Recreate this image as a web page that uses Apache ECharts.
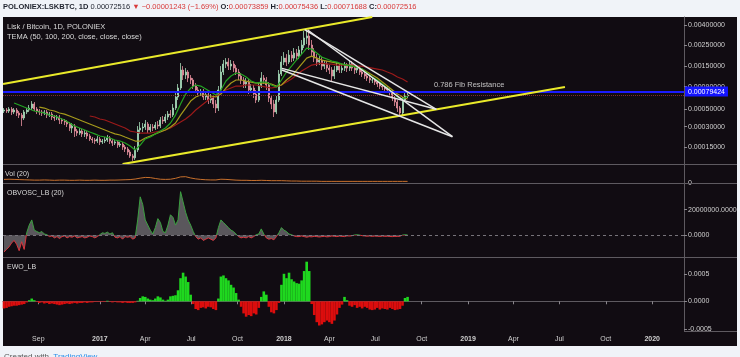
<!DOCTYPE html>
<html><head><meta charset="utf-8">
<script src="https://cdn.jsdelivr.net/npm/echarts@6/dist/echarts.min.js"></script>
<style>html,body{margin:0;padding:0;background:#f0f3f8;}#c{width:740px;height:357px;}</style>
</head><body><div id="c"></div>
<script>
// ================= DATA =================
// Price candles (5-day candles), values in satoshi (1e-8 BTC)
const candleStart = '2016-06-25';
const candleStepDays = 5;
const firstOpenSat = 47300;
const closeSat = [48600,47300,49900,46000,48600,44700,42200,38800,46000,48600,
51300,57200,49900,47300,46000,44700,46000,42200,43400,39900,
38800,39900,36600,35500,34500,32500,28800,30600,26200,24600,
26200,23900,24600,22300,20200,19500,18800,20200,18200,18800,
19500,20900,18800,17500,18200,16300,16900,15100,14000,12400,
10500,9600,13500,27100,28800,29700,32500,27100,29700,28800,
31500,30600,36600,35500,39900,43400,42200,51300,68900,86900,
136300,120500,129700,111800,106400,91400,82600,76400,78400,68900,
72600,63600,67100,57200,51300,82600,129700,157700,165500,150100,
157700,143000,129700,117500,106400,96200,101100,82600,86900,74500,
63600,91400,111800,106400,93800,67100,57200,46000,63600,123500,
165500,182200,165500,196000,182200,205600,191300,221300,249100,294300,
308700,249100,210600,182200,165500,174100,150100,157700,143000,136300,
117500,136300,150100,136300,143000,150100,143000,157700,143000,136300,
143000,129700,123500,117500,111800,106400,106400,101100,96200,91400,
89100,84700,82600,78400,67100,60300,51300,44700,63600,70700,
72516];
const highSat = [51300,51300,52700,52700,51300,51300,47300,44700,48600,51300,
55700,61900,60300,52700,49900,48600,48600,48600,46000,46000,
42200,42200,42200,38800,37700,36600,34500,33500,32500,27900,
28800,27900,27100,26200,23900,21600,20900,22300,21600,20200,
21600,23100,22300,20200,19500,19500,18200,18200,16300,15100,
13500,11400,15700,30600,34500,33500,36600,34500,32500,32500,
34500,35500,39900,41100,43400,47300,48600,57200,76400,96200,
161600,150100,143000,136300,120500,111800,98600,89100,84700,84700,
78400,78400,74500,72600,63600,91400,150100,174100,182200,182200,
174100,169700,153900,139600,126600,114600,111800,109100,96200,93800,
82600,101100,129700,120500,114600,101100,72600,63600,70700,136300,
191300,210600,200700,221300,215900,231800,226500,243200,280900,347500,
355800,339400,280900,231800,200700,191300,186700,174100,169700,153900,
146500,150100,165500,161600,157700,165500,161600,174100,169700,153900,
153900,150100,139600,133000,126600,117500,114600,111800,106400,101100,
96200,93800,91400,86900,82600,70700,63600,54200,68900,78400,
78400];
const lowSat = [44700,44700,44700,42200,43400,41100,38800,30600,36600,43400,
46000,48600,47300,43400,42200,41100,42200,38800,39900,36600,
35500,36600,32500,32500,31500,29700,26200,24600,21600,22300,
23100,21600,21600,20200,18800,17500,16900,17500,16300,16900,
17500,18200,16900,15700,16300,14600,15100,13500,12400,10900,
9600,8300,8700,12400,23900,25400,27100,24600,25400,26200,
27100,27900,28800,32500,33500,36600,38800,39900,48600,63600,
82600,106400,109100,101100,96200,84700,76400,68900,70700,63600,
63600,57200,58700,51300,44700,47300,78400,120500,143000,136300,
136300,129700,120500,106400,96200,86900,86900,74500,76400,67100,
58700,60300,86900,96200,82600,60300,49900,39900,43400,60300,
117500,153900,150100,157700,165500,169700,174100,178100,200700,231800,
255100,221300,186700,165500,150100,153900,136300,139600,129700,123500,
103700,109100,129700,126600,126600,133000,129700,133000,133000,123500,
126600,120500,114600,109100,103700,98600,98600,93800,89100,84700,
82600,78400,76400,72600,61900,54200,46000,41100,42200,60300,
67100];

// TEMA lines (10-day samples), satoshi; each starts at a sample index
const temaStart = '2016-06-25';
const temaStepDays = 10;
const tema50StartIdx = 2;
const tema50Sat = [58700,55700,52700,49900,47300,46000,44700,42200,41100,38800,36600,33500,30600,28800,27100,25400,23900,22300,21600,20900,19500,18800,17500,15700,13500,16300,20200,21600,23900,26200,28800,33500,42200,57200,74500,86900,93800,91400,84700,78400,72600,82600,103700,117500,126600,123500,114600,103700,98600,101100,101100,93800,89100,106400,129700,150100,174100,200700,231800,226500,205600,186700,178100,169700,165500,157700,153900,150100,146500,139600,126600,114600,106400,96200,86900,78400,68900,65300,70700];
const tema100StartIdx = 7;
const tema100Sat = [52700,51300,48600,47300,44700,43400,41100,38800,36600,34500,32500,30600,28800,27100,25400,23900,23100,21600,20200,18800,18800,20900,22300,23900,25400,27100,29700,33500,42200,51300,61900,68900,72600,72600,70700,68900,74500,86900,98600,106400,106400,103700,101100,98600,98600,98600,96200,91400,93800,106400,117500,136300,157700,182200,191300,182200,174100,169700,165500,161600,157700,153900,150100,146500,139600,129700,120500,111800,101100,91400,82600,74500,68900,65300];
const tema200StartIdx = 17;
const tema200Sat = [41100,39900,37700,36600,34500,32500,30600,28800,26200,25400,24600,24600,24600,25400,26200,27100,28800,31500,34500,37700,42200,48600,54200,60300,67100,70700,76400,82600,86900,91400,91400,93800,93800,93800,91400,89100,86900,89100,93800,101100,109100,120500,133000,143000,153900,157700,161600,157700,157700,153900,153900,153900,153900,150100,150100,146500,143000,139600,136300,129700,123500,114600,109100,101100];

// Volume MA (10-day samples, relative units)
const volMA = [20,21,20,19,18,17,16,16,17,16,15,16,16,15,15,16,15,15,16,15,15,16,16,17,18,19,
22,27,31,30,25,21,20,21,26,34,35,28,23,20,18,17,17,21,20,18,16,15,15,14,14,15,14,13,13,13,12,11,11,10,
10,10,10,9,9,9,9,9,9,9,9,9,9,9,9,9,9,9,9,9,9];

// OBV oscillator (5-day samples), millions
const obvOscM = [-13,-11,-9,-6,-4,-7,-12,-5,-11,2,
8,12,4,3,2,3,1,0.5,-1,-0.5,
-2,-1,-2.5,-1,-0.5,-2,-1,-1.5,-0.5,-2,
-1.5,-1,-2,-1.5,-0.5,-1,-2,-1,0.5,2,
1.5,2.5,1,2,-1.5,-2,-1,-3,-1,-1.5,
-1,-3,-2,12,30,24,12,8,4,1,
6,13,10,3,2,8,16,14,8,12,
34,26,18,12,8,3,-1,-3,-2,-4,
-3,-2,-3,-4,-2,6,12,10,8,6,
4,3,1,-1,-2,-1.5,-2,-1,-2,-1,
0.5,1,5,1,-2,-3,-2.5,-3.5,-1,2,
6,4,3,1,0.5,-0.5,-1,-1,-0.5,-1,
-1.5,-1,-1.2,-0.8,-1,-1.3,-1,-0.8,-1.2,-1,
-0.5,-0.8,-1,-0.6,-0.8,-1,-0.4,-0.6,-0.3,0.3,
0.4,0.2,-0.3,-0.5,-0.7,-0.5,-0.8,-0.6,-0.7,-0.9,
-0.6,-0.8,-0.7,-0.9,-1,-0.8,-0.9,-0.7,0.2,0.4,
0.3];

// EWO (5-day samples), units of 1e-4
const ewoE4 = [-1.3,-1.2,-1.0,-0.9,-0.8,-0.8,-0.7,-0.6,-0.5,-0.2,
0.2,0.5,0.2,-0.1,-0.3,-0.2,-0.4,-0.3,-0.5,-0.4,
-0.5,-0.6,-0.7,-0.6,-0.5,-0.4,-0.5,-0.4,-0.3,-0.4,
-0.3,-0.3,-0.2,-0.3,-0.2,-0.2,-0.1,-0.1,-0.1,-0.1,
-0.1,0.1,-0.1,-0.2,-0.1,-0.2,-0.2,-0.3,-0.2,-0.3,
-0.3,-0.3,-0.2,0.1,0.6,0.9,0.8,0.5,0.3,0.2,
0.5,0.9,0.7,0.3,0.1,0.3,0.9,1.0,1.1,2.0,
4.2,5.2,4.5,3.5,1.2,-0.5,-1.4,-1.6,-1.2,-1.1,
-1.3,-1.0,-1.1,-1.4,-1.6,0.5,4.5,4.7,4.2,3.8,
3.0,2.5,1.5,0.3,-1.0,-2.2,-2.8,-2.5,-2.7,-2.2,
-2.4,-1.2,0.8,1.8,1.2,-1.0,-2.0,-2.2,-1.6,-0.3,
3.0,5.0,4.2,5.2,4.0,3.6,3.3,3.2,3.8,5.5,
7.2,5.5,-0.5,-2.5,-3.8,-4.4,-4.2,-3.8,-3.5,-3.8,
-4.1,-3.5,-2.4,-1.2,-0.6,0.8,0.2,-0.8,-1.0,-0.7,
-1.2,-1.0,-1.3,-1.0,-1.2,-1.5,-1.6,-1.5,-1.2,-1.5,
-1.3,-1.4,-1.5,-1.2,-1.4,-1.6,-1.5,-1.4,-0.8,0.6,
0.8];

// Axis ticks / ranges
const timeRange = ['2016-06-23', '2020-03-04'];
const timeTickDates = ['2016-09-01','2017-01-01','2017-04-01','2017-07-01','2017-10-01','2018-01-01','2018-04-01','2018-07-01','2018-10-01','2019-01-01','2019-04-01','2019-07-01','2019-10-01','2020-01-01'];
const timeTickLabels = ['Sep','2017','Apr','Jul','Oct','2018','Apr','Jul','Oct','2019','Apr','Jul','Oct','2020'];
const priceRangeSat = [7030, 482400];
const priceTicksSat = [400000, 250000, 150000, 90000, 50000, 30000, 15000];
const volRange = [0, 100];
const volTicks = [0];
const obvRangeM = [-16.9, 40];
const obvTicksM = [20, 0];
const ewoRangeE4 = [-5.4, 7.87];
const ewoTicksE4 = [5, 0, -5];

// Drawings
const fibLevelSat = 79424;
const lastCloseSat = 72516;
const channelUpper = [['2016-06-23', 96200], ['2018-06-25', 482400]];
const channelLower = [['2017-02-15', 7000], ['2019-07-12', 89100]];
const wedgeLines = [
  [['2018-02-11', 359000], ['2018-10-30', 49500]],
  [['2018-02-17', 355800], ['2018-12-01', 21800]],
  [['2017-12-28', 142000], ['2018-10-30', 49500]],
  [['2017-12-28', 136300], ['2018-12-01', 21800]]
];
const fibLabel = { date: '2019-01-03', sat: 93800, text: '0.786 Fib Resistance' };

const headerText = ['POLONIEX:LSKBTC, 1D', '0.00072516', '▼', '−0.00001243 (−1.69%)', 'O:', '0.00073859', 'H:', '0.00075436', 'L:', '0.00071688', 'C:', '0.00072516'];
const paneTitles = { main1: 'Lisk / Bitcoin, 1D, POLONIEX', main2: 'TEMA (50, 100, 200, close, close, close)', vol: 'Vol (20)', obv: 'OBVOSC_LB (20)', ewo: 'EWO_LB' };

// ================= BUILD =================
const DAY = 86400000;
const d = s => { const p = s.split('-').map(Number); return Date.UTC(p[0], p[1] - 1, p[2]); };
const T = s => Math.log(s + 10000);   // price scale used by the chart (log with offset)
const cStart = d(candleStart), tStart = d(temaStart);
const cTime = i => cStart + i * candleStepDays * DAY;
const tTime = j => tStart + j * temaStepDays * DAY;

const candleData = closeSat.map((c, i) => {
  const o = i ? closeSat[i - 1] : firstOpenSat;
  return [cTime(i), T(o), T(c), T(lowSat[i]), T(highSat[i])];
});
const temaSeries = (arr, s) => arr.map((v, k) => [tTime(s + k), T(v)]);
const volData = volMA.map((v, j) => [tTime(j), v]);
const obvData = obvOscM.map((v, i) => [cTime(i), v]);
const ewoData = ewoE4.map((v, i) => [cTime(i), v]);
const lineData = seg => seg.map(p => [d(p[0]), T(p[1])]);

const tickTimes = timeTickDates.map(d);
const FONT = '"Liberation Sans", Arial, sans-serif';
const AX = '#5e5a60', LBL = '#cfcfcf';
const timeFmt = v => {
  let k = 0, best = Infinity;
  tickTimes.forEach((t, i) => { const dd = Math.abs(t - v); if (dd < best) { best = dd; k = i; } });
  const s = timeTickLabels[k];
  return /^\d{4}$/.test(s) ? '{y|' + s + '}' : s;
};

const GRIDS = [
  { left: 3, right: 56, top: 17, height: 147 },
  { left: 3, right: 56, top: 165, height: 18 },
  { left: 3, right: 56, top: 184, height: 73 },
  { left: 3, right: 56, top: 258, height: 73 }
];

const xBase = (gi, showLabels) => ({
  type: 'value', gridIndex: gi, min: d(timeRange[0]), max: d(timeRange[1]),
  show: !!showLabels,
  splitLine: { show: false },
  axisLine: { show: true, lineStyle: { color: AX } },
  axisTick: { show: true, customValues: tickTimes, length: 3, lineStyle: { color: '#8a868c' } },
  axisLabel: { show: true, customValues: tickTimes, formatter: timeFmt, color: LBL, fontSize: 7, fontFamily: FONT, margin: 5,
    rich: { y: { fontWeight: 'bold', color: LBL, fontSize: 7, fontFamily: FONT } } },
  axisPointer: { show: false }
});
const yBase = (gi, range, ticks, fmt) => ({
  type: 'value', gridIndex: gi, position: 'right', min: range[0], max: range[1],
  splitLine: { show: false },
  axisLine: { show: true, lineStyle: { color: AX } },
  axisTick: { show: true, customValues: ticks, length: 3, lineStyle: { color: '#8a868c' } },
  axisLabel: { show: true, customValues: ticks, formatter: fmt, color: LBL, fontSize: 7, fontFamily: FONT, margin: 4 }
});

const priceFmt = v => ((Math.exp(v) - 10000) / 1e8).toFixed(8);

// OBV line: green above zero, red below (gradient split at the zero level of the pane)
const obvZeroFrac = obvRangeM[1] / (obvRangeM[1] - obvRangeM[0]);
const obvTop = GRIDS[2].top, obvBottom = GRIDS[2].top + GRIDS[2].height;
const obvLineColor = new echarts.graphic.LinearGradient(0, obvTop, 0, obvBottom, [
  { offset: 0, color: '#3a9f3f' }, { offset: obvZeroFrac, color: '#3a9f3f' },
  { offset: obvZeroFrac, color: '#d8343c' }, { offset: 1, color: '#d8343c' }
], true);

const series = [
  { type: 'candlestick', xAxisIndex: 0, yAxisIndex: 0, data: candleData, barWidth: 1.5,
    itemStyle: { color: '#bfe8cf', color0: '#f0a7b2', borderColor: '#a6dcb9', borderColor0: '#e8909e', borderWidth: 0.8 },
    markLine: { symbol: 'none', silent: true, animation: false,
      data: [
        { yAxis: T(lastCloseSat), lineStyle: { color: '#7d2c30', width: 1, type: 'dotted' }, label: { show: false } },
        { yAxis: T(fibLevelSat), lineStyle: { color: '#1b1bff', width: 2, type: 'solid' },
          label: { show: true, position: 'end', distance: 1, formatter: (fibLevelSat / 1e8).toFixed(8),
            backgroundColor: '#1414ff', color: '#ffffff', fontSize: 7, fontFamily: FONT, padding: [2, 3, 1, 3] } }
      ] } },
  { type: 'line', xAxisIndex: 0, yAxisIndex: 0, data: temaSeries(tema200Sat, tema200StartIdx), showSymbol: false, symbol: 'none', lineStyle: { color: '#9c1a1a', width: 1.2 }, silent: true },
  { type: 'line', xAxisIndex: 0, yAxisIndex: 0, data: temaSeries(tema100Sat, tema100StartIdx), showSymbol: false, symbol: 'none', lineStyle: { color: '#a59a1c', width: 1.2 }, silent: true },
  { type: 'line', xAxisIndex: 0, yAxisIndex: 0, data: temaSeries(tema50Sat, tema50StartIdx), showSymbol: false, symbol: 'none', lineStyle: { color: '#23a323', width: 1.2 }, silent: true },
  { type: 'line', xAxisIndex: 0, yAxisIndex: 0, data: lineData(channelUpper), showSymbol: false, symbol: 'none', lineStyle: { color: '#eaea2a', width: 2 }, silent: true, z: 5 },
  { type: 'line', xAxisIndex: 0, yAxisIndex: 0, data: lineData(channelLower), showSymbol: false, symbol: 'none', lineStyle: { color: '#eaea2a', width: 2 }, silent: true, z: 5 }
].concat(wedgeLines.map(seg => ({ type: 'line', xAxisIndex: 0, yAxisIndex: 0, data: lineData(seg), showSymbol: false, symbol: 'none', lineStyle: { color: '#e6e6e6', width: 1.5 }, silent: true, z: 5 })))
.concat([
  { type: 'scatter', xAxisIndex: 0, yAxisIndex: 0, data: [[d(fibLabel.date), T(fibLabel.sat)]], symbolSize: 1, itemStyle: { color: 'rgba(0,0,0,0)' }, silent: true,
    label: { show: true, position: 'inside', formatter: fibLabel.text, color: '#e8e8e8', fontSize: 7.5, fontFamily: FONT } },
  { type: 'line', xAxisIndex: 1, yAxisIndex: 1, data: volData, showSymbol: false, symbol: 'none', lineStyle: { color: '#c8702c', width: 1 }, silent: true },
  { type: 'line', xAxisIndex: 2, yAxisIndex: 2, data: obvData, showSymbol: false, symbol: 'none', lineStyle: { width: 1, color: obvLineColor }, areaStyle: { color: '#5a575c', opacity: 1 }, silent: true,
    markLine: { symbol: 'none', silent: true, data: [{ yAxis: 0 }], lineStyle: { color: '#77737a', type: [3, 3], width: 1 }, label: { show: false } } },
  { type: 'bar', xAxisIndex: 3, yAxisIndex: 3, data: ewoData, barWidth: 2.6, silent: true,
    itemStyle: { color: p => p.value[1] >= 0 ? '#1fd81f' : '#dc0d0d' } }
]);

const option = {
  animation: false,
  backgroundColor: '#f0f3f8',
  grid: GRIDS,
  xAxis: [xBase(0, false), xBase(1, false), xBase(2, false), xBase(3, true)],
  yAxis: [
    yBase(0, [T(priceRangeSat[0]), T(priceRangeSat[1])], priceTicksSat.map(T), priceFmt),
    yBase(1, volRange, volTicks, v => String(Math.round(v))),
    yBase(2, obvRangeM, obvTicksM, v => (v * 1e6).toFixed(4)),
    yBase(3, ewoRangeE4, ewoTicksE4, v => (v / 1e4).toFixed(4))
  ],
  graphic: [
    { type: 'rect', shape: { x: 3, y: 17, width: 734, height: 329 }, style: { fill: '#110c12' }, z: -100, silent: true },
    { type: 'line', shape: { x1: 3, y1: 164.5, x2: 737, y2: 164.5 }, style: { stroke: AX, lineWidth: 1 }, z: 50, silent: true },
    { type: 'line', shape: { x1: 3, y1: 183.5, x2: 737, y2: 183.5 }, style: { stroke: AX, lineWidth: 1 }, z: 50, silent: true },
    { type: 'line', shape: { x1: 3, y1: 257.5, x2: 737, y2: 257.5 }, style: { stroke: AX, lineWidth: 1 }, z: 50, silent: true },
    { type: 'line', shape: { x1: 684, y1: 331.5, x2: 737, y2: 331.5 }, style: { stroke: AX, lineWidth: 1 }, z: 50, silent: true },
    { type: 'text', x: 7, y: 27, style: { text: paneTitles.main1, fill: '#d8d8d8', font: '7.5px ' + FONT, verticalAlign: 'middle' }, z: 60, silent: true },
    { type: 'text', x: 7, y: 36.5, style: { text: paneTitles.main2, fill: '#d8d8d8', font: '7.5px ' + FONT, verticalAlign: 'middle' }, z: 60, silent: true },
    { type: 'text', x: 5, y: 174.5, style: { text: paneTitles.vol, fill: '#d8d8d8', font: '7px ' + FONT, verticalAlign: 'middle' }, z: 60, silent: true },
    { type: 'text', x: 7, y: 193, style: { text: paneTitles.obv, fill: '#d8d8d8', font: '7px ' + FONT, verticalAlign: 'middle' }, z: 60, silent: true },
    { type: 'text', x: 7, y: 267.5, style: { text: paneTitles.ewo, fill: '#d8d8d8', font: '7px ' + FONT, verticalAlign: 'middle' }, z: 60, silent: true },
    { type: 'text', x: 3, y: 7, z: 60, silent: true, style: {
        text: '{b|' + headerText[0] + '} {n|' + headerText[1] + '} {r|' + headerText[2] + ' ' + headerText[3] + '} {b|' + headerText[4] + '}{r|' + headerText[5] + '} {b|' + headerText[6] + '}{r|' + headerText[7] + '} {b|' + headerText[8] + '}{r|' + headerText[9] + '} {b|' + headerText[10] + '}{r|' + headerText[11] + '}',
        verticalAlign: 'middle', font: '7.5px ' + FONT, fill: '#1e222d',
        rich: { b: { fontWeight: 'bold', fill: '#1e222d', fontSize: 7.5, fontFamily: FONT },
                n: { fill: '#1e222d', fontSize: 7.5, fontFamily: FONT },
                r: { fill: '#d83a3a', fontSize: 7.5, fontFamily: FONT } } } },
    { type: 'text', x: 4, y: 353, z: 60, silent: true, style: {
        text: '{g|Created with}  {b|TradingView}', verticalAlign: 'top', font: '8px ' + FONT,
        rich: { g: { fill: '#555555', fontSize: 8, fontFamily: FONT }, b: { fill: '#2a8ee8', fontSize: 8, fontFamily: FONT } } } }
  ],
  series: series
};

const chart = echarts.init(document.getElementById('c'), null, { renderer: 'canvas' });
chart.setOption(option);
</script>
</body></html>
